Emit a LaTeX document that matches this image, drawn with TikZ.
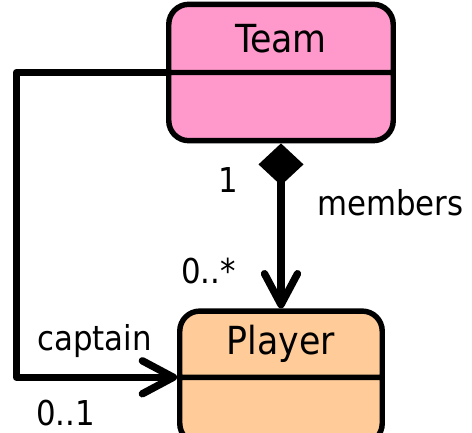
\documentclass[tikz,border=0pt]{standalone}
\usepackage{xcolor}
\usepackage{fontspec}
\setmainfont{DejaVu Sans Condensed}
\usepackage{tikz}
\usetikzlibrary{positioning, shapes.multipart, arrows.meta}
\definecolor{teampink}{RGB}{255,153,204}
\definecolor{playerpeach}{RGB}{255,204,153}
\newcommand{\classtitle}[2]{\vbox to #2{\vfil\hbox{#1}\vfil}}

\begin{document}
\begin{tikzpicture}[x=0.02cm, y=-0.02cm, node distance=3.3cm,
          >={Straight Barb[length=0.62cm, width=0.66cm, round]},
          every node/.style={font=\fontsize{19.5}{23}\selectfont},
          umlclass/.style={rectangle split, rectangle split parts=2, draw, line width=3.1pt,
            rounded corners=0.4cm, inner xsep=0pt, inner ysep=0pt, font=\fontsize{22}{26}\selectfont},
          mult/.style={inner sep=0pt, anchor=base west},
          link/.style={line width=4.2pt, line join=round}]
  \useasboundingbox (0,0) rectangle (472,432);
  \node[umlclass, fill=teampink, minimum width=4.49cm] (team) at (281,72.5)
    {\classtitle{Team}{1.255cm}\nodepart{two}\rule{0pt}{1.255cm}};
  \node[umlclass, fill=playerpeach, minimum width=4.05cm, below=of team] (player)
    {\classtitle{Player}{1.215cm}\nodepart{two}\rule{0pt}{1.215cm}};
  \path[link] (team.south) edge [{Diamond[length=0.84cm, width=0.9cm]}->] (player.north);
  \draw[link, ->] (team.text split west) -- ++(-149.5,0) |- (player.text split west);
  \node[mult] (one) at (218,192) {1};
  \node[mult] (members) at (317,215) {members};
  \node[mult] (many) at (181,283) {0..*};
  \node[mult] (captain) at (37,350) {captain};
  \node[mult] (opt) at (36,425) {0..1};
\end{tikzpicture}
\end{document}
